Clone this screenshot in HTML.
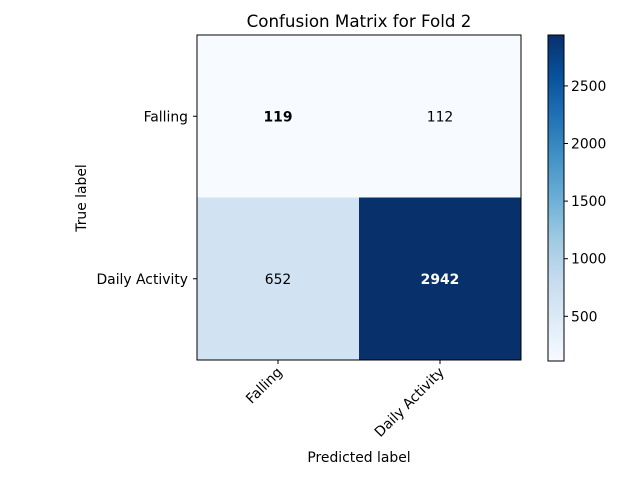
<!DOCTYPE html>
<html><head><meta charset="utf-8"><style>body{margin:0;background:#fff}svg{display:block}</style></head>
<body>
<svg id="c" width="640" height="480" xmlns="http://www.w3.org/2000/svg" font-family="DejaVu Sans, Liberation Sans, sans-serif"></svg>
<script>
const classes = ["Falling", "Daily Activity"];
const row0 = [119, 112];
const row1 = [652, 2942];
const cbTicks = [500, 1000, 1500, 2000, 2500];
const matrix = [row0, row1];
const svg = document.getElementById('c');
const NS = 'http://www.w3.org/2000/svg';
function mk(t, a, p) { const e = document.createElementNS(NS, t); for (const k in a) e.setAttribute(k, a[k]); (p || svg).appendChild(e); return e; }
const stops = ['#f7fbff','#deebf7','#c6dbef','#9ecae1','#6baed6','#4292c6','#2171b5','#08519c','#08306b'];
function hex(h){return [1,3,5].map(i=>parseInt(h.substr(i,2),16));}
function cmap(t){t=Math.max(0,Math.min(1,t));const f=t*8,i=Math.min(7,Math.floor(f)),r=f-i;const a=hex(stops[i]),b=hex(stops[i+1]);return 'rgb('+a.map((v,k)=>Math.round(v+(b[k]-v)*r)).join(',')+')';}
const all = matrix.flat();
const vmin = Math.min(...all), vmax = Math.max(...all);
const X0 = 197, Y0 = 35, W = 324, H = 325;
const n = classes.length, cw = W / n, ch = H / n;
const xc = j => X0 + cw * (j + 0.5), yc = i => Y0 + ch * (i + 0.5);
const FS = 13.9;
let t = mk('text', {x: 359, y: 27, 'text-anchor': 'middle', 'font-size': 16.7});
t.textContent = 'Confusion Matrix for Fold 2';
 
matrix.forEach((row, i) => row.forEach((v, j) => {
  const r = mk('rect', {x: X0 + cw * j, y: Y0 + ch * i, width: cw, height: ch, fill: cmap((v - vmin) / (vmax - vmin))});
  
  
  const tx = mk('text', {x: xc(j), y: yc(i) + 5, 'text-anchor': 'middle', 'font-size': FS, fill: v > vmax / 2 ? '#fff' : '#000', 'font-weight': i === j ? 'bold' : 'normal'});
  tx.textContent = v;
  
  
}));
mk('rect', {x: X0, y: Y0, width: W, height: H, fill: 'none', stroke: '#000', 'stroke-width': 1});
classes.forEach((c, i) => {
  mk('line', {x1: X0 - 4, x2: X0, y1: yc(i), y2: yc(i), stroke: '#000'});
  const l = mk('text', {x: X0 - 9, y: yc(i) + 5, 'text-anchor': 'end', 'font-size': FS});
  l.textContent = c;
  
  
  mk('line', {x1: xc(i), x2: xc(i), y1: Y0 + H, y2: Y0 + H + 4, stroke: '#000'});
  const xl = mk('text', {x: 0, y: 0, 'text-anchor': 'end', 'font-size': FS, transform: 'translate(' + (xc(i) + 5) + ',' + (Y0 + H + 13) + ') rotate(-45)'});
  xl.textContent = c;
  
  
});
t = mk('text', {x: 359, y: 462, 'text-anchor': 'middle', 'font-size': FS}); t.textContent = 'Predicted label';
 
t = mk('text', {x: 0, y: 0, 'text-anchor': 'middle', 'font-size': FS, transform: 'translate(86,198) rotate(-90)'}); t.textContent = 'True label';
 
const CX = 548, CW = 16, CY0 = 35, CH = 326;
const cy = v => CY0 + CH * (1 - (v - vmin) / (vmax - vmin));
const defs = mk('defs', {});
const g = mk('linearGradient', {id: 'g', x1: 0, y1: 1, x2: 0, y2: 0}, defs);
stops.forEach((s, k) => mk('stop', {offset: k / 8, 'stop-color': s}, g));
const cb = mk('rect', {x: CX, y: CY0, width: CW, height: CH, fill: 'url(#g)', stroke: '#000', 'stroke-width': 1});


cbTicks.forEach(v => {
  mk('line', {x1: CX + CW, x2: CX + CW + 4, y1: cy(v), y2: cy(v), stroke: '#000'});
  const l = mk('text', {x: CX + CW + 7, y: cy(v) + 5, 'font-size': FS});
  l.textContent = v;
  
  
});
</script>
</body></html>
